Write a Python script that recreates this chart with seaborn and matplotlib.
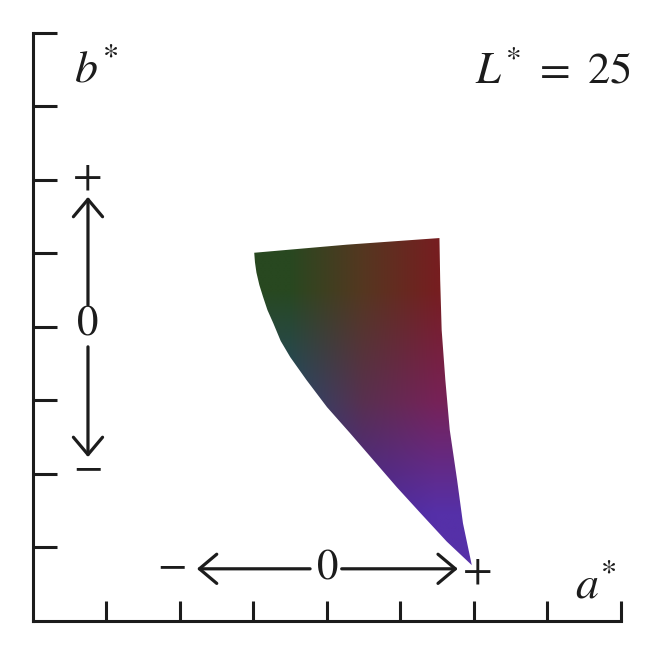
import numpy as np
import matplotlib
matplotlib.use("Agg")
import matplotlib.pyplot as plt
import seaborn as sns
from matplotlib.patches import Polygon

# ------------------------------------------
# Data (axis units: 0..8 on both axes)
# ------------------------------------------
# gamut outline at L* = 25, clockwise from the top-left corner
gamut_a = [3.01, 4.27, 5.53, 5.54, 5.56, 5.61, 5.67, 5.77, 5.85, 5.97,
           5.63, 5.27, 4.95, 4.63, 4.31, 4.00, 3.72, 3.50, 3.37, 3.27,
           3.19, 3.13, 3.08, 3.04, 3.02]
gamut_b = [5.01, 5.12, 5.21, 4.64, 3.96, 3.28, 2.60, 1.92, 1.33, 0.76,
           1.08, 1.47, 1.82, 2.19, 2.56, 2.91, 3.28, 3.59, 3.81, 4.05,
           4.23, 4.41, 4.57, 4.74, 4.88]

# colours (rows top -> bottom, cols left -> right)
fill_rows = [
    [(40, 72, 32), (85, 55, 32), (118, 30, 32)],
    [(38, 72, 105), (88, 48, 80), (118, 34, 88)],
    [(55, 45, 150), (72, 40, 155), (85, 48, 168)],
]
fill_extent = [3.0, 6.0, 0.7, 5.25]

x_ticks = [1, 2, 3, 4, 5, 6, 7, 8]
y_ticks = [1, 2, 3, 4, 5, 6, 7, 8]

ink = "#1c1c1c"

# ------------------------------------------
# Figure
# ------------------------------------------
sns.set_style("ticks")
plt.rcParams["font.family"] = ["STIXGeneral", "DejaVu Serif"]
plt.rcParams["mathtext.fontset"] = "stix"

fig = plt.figure(figsize=(6.6, 6.57), dpi=100)
ax = fig.add_axes([0.05, 0.0548, 0.8909, 0.895])

# gradient fill clipped to the gamut outline
img = np.array(fill_rows, dtype=float) / 255.0
im = ax.imshow(img, extent=fill_extent, origin="upper",
               interpolation="bilinear", aspect="auto", zorder=1)
outline = Polygon(np.column_stack([gamut_a, gamut_b]), closed=True,
                  facecolor="none", edgecolor="none")
ax.add_patch(outline)
im.set_clip_path(outline)

ax.set_xlim(0, 8)
ax.set_ylim(0, 8)
ax.set_xticks(x_ticks)
ax.set_yticks(y_ticks)
ax.set_xticklabels([])
ax.set_yticklabels([])
ax.tick_params(axis="x", direction="in", length=14.5, width=2.2, color=ink)
ax.tick_params(axis="y", direction="in", length=17, width=2.2, color=ink)
sns.despine(ax=ax)
for s in ("left", "bottom"):
    ax.spines[s].set_linewidth(2.2)
    ax.spines[s].set_color(ink)
ax.set_facecolor("white")

# arrows around the zero points
arr = dict(arrowstyle="->,head_length=1.25,head_width=1.05", lw=2.3, color=ink,
           shrinkA=0, shrinkB=0)
ax.annotate("", xy=(2.23, 0.71), xytext=(3.77, 0.71), arrowprops=arr)
ax.annotate("", xy=(5.78, 0.71), xytext=(4.20, 0.71), arrowprops=arr)
ax.annotate("", xy=(0.748, 5.77), xytext=(0.748, 4.30), arrowprops=arr)
ax.annotate("", xy=(0.748, 2.23), xytext=(0.748, 3.73), arrowprops=arr)

fs = 31
ax.text(4.01, 0.71, "0", fontsize=fs, ha="center", va="center", color=ink)
ax.text(1.89, 0.74, "\u2212", fontsize=fs, ha="center", va="center", color=ink)
ax.text(6.05, 0.67, "+", fontsize=fs, ha="center", va="center", color=ink)
ax.text(0.748, 4.03, "0", fontsize=fs, ha="center", va="center", color=ink)
ax.text(0.748, 6.03, "+", fontsize=fs, ha="center", va="center", color=ink)
ax.text(0.748, 2.07, "\u2212", fontsize=fs, ha="center", va="center", color=ink)

ax.text(0.56, 7.33, r"$b^{*}$", fontsize=33, ha="left", va="baseline", color=ink)
ax.text(7.38, 0.31, r"$a^{*}$", fontsize=33, ha="left", va="baseline", color=ink)
ax.text(6.02, 7.33, r"$L^{*}\ =\ 25$", fontsize=32, ha="left", va="baseline",
        color=ink)

fig.savefig("out.png", dpi=100, facecolor="white")
